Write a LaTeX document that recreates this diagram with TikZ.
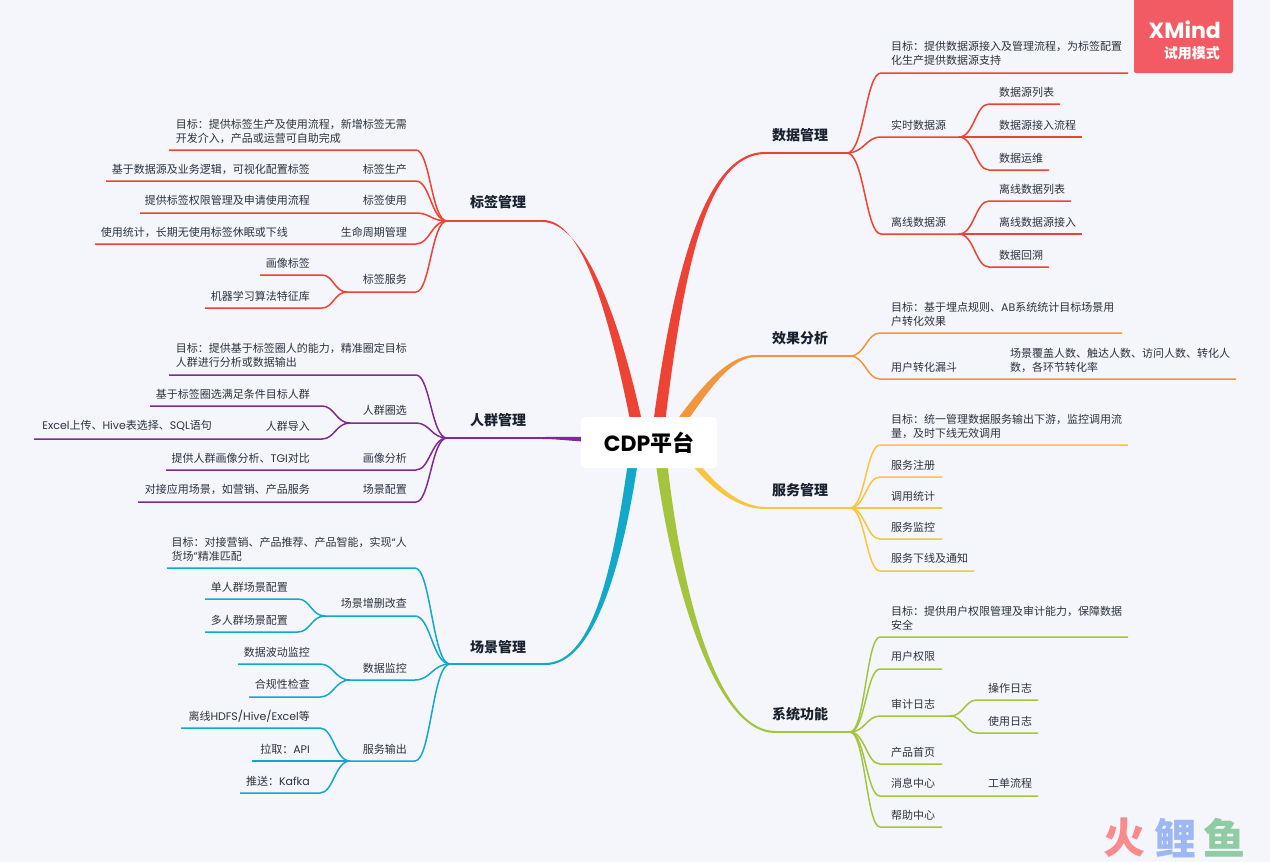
\documentclass[tikz,border=0pt]{standalone}
\usepackage{fontspec}
\setmainfont{Noto Sans CJK SC}
\newfontfamily\lat{Poppins}
\usetikzlibrary{calc}
\definecolor{bgc}{HTML}{F5F6FB}
\definecolor{ink}{HTML}{2C3240}
\definecolor{inkd}{HTML}{1A2230}
\definecolor{rd}{HTML}{EC4334}
\definecolor{og}{HTML}{F2953D}
\definecolor{yl}{HTML}{F8C53D}
\definecolor{gn}{HTML}{A3C53E}
\definecolor{bl}{HTML}{12A8CA}
\definecolor{pp}{HTML}{7D2B93}
\definecolor{xm}{HTML}{F25B63}
\definecolor{wma}{HTML}{FB8A8C}
\definecolor{wmb}{HTML}{9DB7F5}
\definecolor{wmc}{HTML}{8FCBA3}
\tikzset{
  twig/.style={to path={let \p1=(\tikztostart),\p2=(\tikztotarget) in
    .. controls ({\x1+0.5*(\x2-\x1)},{\y1}) and ({\x1+0.55*(\x2-\x1)},{\y2}) .. (\tikztotarget)}},
  wire/.style={line width=1.5pt},
  stem/.style={line width=1.9pt},
  leaf/.style={inner sep=0pt,text=ink,font=\fontsize{11}{14}\selectfont,align=left},
  lleaf/.style={leaf,anchor=east},
  rleaf/.style={leaf,anchor=west},
  topic/.style={inner sep=0pt,text=inkd,font=\fontsize{14}{16}\selectfont\bfseries},
  wmark/.style={inner sep=0pt,font=\fontsize{42}{44}\selectfont\bfseries}
}
\begin{document}
\begin{tikzpicture}[x=1pt,y=-1pt]
\useasboundingbox (0,0) rectangle (1270,862);
\fill [bgc] (0,0) rectangle (1270,862);
\coordinate (ra) at (657,440);
\coordinate (rb) at (640,440);
\coordinate (rc) at (668,440);
\coordinate (rd0) at (680,445);
\coordinate (re) at (659,440);
\coordinate (rf) at (636,440);
\coordinate (rg) at (600,440);
% main branches
\coordinate (d0) at (765,153);
\coordinate (d) at (847,153);
\fill [rd] ($(ra)+(-6,0)$) .. controls (675,250) and (710,152) .. ($(d0)+(0,-1)$) -- ($(d0)+(0,1)$) .. controls (710,155) and (685,250) .. ($(ra)+(6,0)$) -- cycle;
\draw [rd,stem] (d0) -- (d);
\coordinate (e0) at (755,356);
\coordinate (e) at (850,356);
\fill [og] ($(rc)+(-5,0)$) .. controls (687,405) and (722,355) .. ($(e0)+(0,-1)$) -- ($(e0)+(0,1)$) .. controls (724,358) and (696,412) .. ($(rc)+(5,0)$) -- cycle;
\draw [og,stem] (e0) -- (e);
\coordinate (s0) at (765,508);
\coordinate (s) at (850,508);
\fill [yl] ($(rd0)+(-3,0)$) .. controls (692,467) and (725,509) .. ($(s0)+(0,1)$) -- ($(s0)+(0,-1)$) .. controls (727,506) and (699,462) .. ($(rd0)+(3,0)$) -- cycle;
\draw [yl,stem] (s0) -- (s);
\coordinate (f0) at (775,732);
\coordinate (f) at (850,732);
\fill [gn] ($(re)+(-6,0)$) .. controls (667,570) and (712,733) .. ($(f0)+(0,1)$) -- ($(f0)+(0,-1)$) .. controls (712,730) and (677,570) .. ($(re)+(6,0)$) -- cycle;
\draw [gn,stem] (f0) -- (f);
\coordinate (t0) at (543,221);
\coordinate (t) at (447,221);
\fill [rd] ($(rb)+(-6,0)$) .. controls (607,300) and (580,220) .. ($(t0)+(0,-1)$) -- ($(t0)+(0,1)$) .. controls (580,223) and (617,300) .. ($(rb)+(6,0)$) -- cycle;
\draw [rd,stem] (t0) -- (t);
\coordinate (p0) at (543,438);
\coordinate (p) at (447,438);
\fill [pp] (rg |- 0,437) .. controls (570,436.5) and (560,437) .. ($(p0)+(0,-1)$) -- ($(p0)+(0,1)$) .. controls (560,439) and (570,441.5) .. (rg |- 0,442) -- cycle;
\draw [pp,stem] (p0) -- (p);
\coordinate (c0) at (545,664);
\coordinate (c) at (450,664);
\fill [bl] ($(rf)+(-5,0)$) .. controls (615,560) and (595,663) .. ($(c0)+(0,-1)$) -- ($(c0)+(0,1)$) .. controls (595,666) and (625,560) .. ($(rf)+(5,0)$) -- cycle;
\draw [bl,stem] (c0) -- (c);
% root
\node [fill=white,rounded corners=4pt,minimum width=136pt,minimum height=51pt,inner sep=0pt,font=\fontsize{22}{24}\selectfont\bfseries,text=black] (root) at (649,442.5) {{\lat CDP}平台};
% data
\node [topic] (dt) at (800,135) {数据管理};
\node [rleaf] (d1t) at (891,53) {目标：提供数据源接入及管理流程，为标签配置\\化生产提供数据源支持};
\coordinate (d1a) at (881,73); \coordinate (d1b) at (1128,73);
\draw [rd,wire] (d) to[twig] (d1a) -- (d1b);
\node [rleaf] (d2t) at (891,125) {实时数据源};
\coordinate (d2a) at (881,137); \coordinate (d2b) at (959,137);
\draw [rd,wire] (d) to[twig] (d2a) -- (d2b);
\node [rleaf] (d21t) at (999,92) {数据源列表};
\coordinate (d21a) at (989,104); \coordinate (d21b) at (1060,104);
\draw [rd,wire] (d2b) to[twig] (d21a) -- (d21b);
\node [rleaf] (d22t) at (999,125) {数据源接入流程};
\coordinate (d22b) at (1082,137);
\draw [rd,wire] (d2b) -- (d22b);
\node [rleaf] (d23t) at (999,158) {数据运维};
\coordinate (d23a) at (989,170); \coordinate (d23b) at (1049,170);
\draw [rd,wire] (d2b) to[twig] (d23a) -- (d23b);
\node [rleaf] (d3t) at (891,222) {离线数据源};
\coordinate (d3a) at (881,234); \coordinate (d3b) at (959,234);
\draw [rd,wire] (d) to[twig] (d3a) -- (d3b);
\node [rleaf] (d31t) at (999,189) {离线数据列表};
\coordinate (d31a) at (989,201); \coordinate (d31b) at (1071,201);
\draw [rd,wire] (d3b) to[twig] (d31a) -- (d31b);
\node [rleaf] (d32t) at (999,222) {离线数据源接入};
\coordinate (d32b) at (1082,234);
\draw [rd,wire] (d3b) -- (d32b);
\node [rleaf] (d33t) at (999,255) {数据回溯};
\coordinate (d33a) at (989,267); \coordinate (d33b) at (1049,267);
\draw [rd,wire] (d3b) to[twig] (d33a) -- (d33b);
% effect
\node [topic] (et) at (800,338) {效果分析};
\node [rleaf] (e1t) at (891,314) {目标：基于埋点规则、{\lat AB}系统统计目标场景用\\户转化效果};
\coordinate (e1a) at (880,333); \coordinate (e1b) at (1122,333);
\draw [og,wire] (e) to[twig] (e1a) -- (e1b);
\node [rleaf] (e2t) at (891,367) {用户转化漏斗};
\coordinate (e2a) at (880,379); \coordinate (e2b) at (1236,379);
\draw [og,wire] (e) to[twig] (e2a) -- (e2b);
\node [rleaf] (e21t) at (1010,360) {场景覆盖人数、触达人数、访问人数、转化人\\数，各环节转化率};
% service
\node [topic] (st) at (800,490) {服务管理};
\node [rleaf] (s1t) at (891,426) {目标：统一管理数据服务输出下游，监控调用流\\量，及时下线无效调用};
\coordinate (s1a) at (880,445); \coordinate (s1b) at (1128,445);
\draw [yl,wire] (s) to[twig] (s1a) -- (s1b);
\node [rleaf] (s2t) at (891,465) {服务注册};
\coordinate (s2a) at (880,477); \coordinate (s2b) at (942,477);
\draw [yl,wire] (s) to[twig] (s2a) -- (s2b);
\node [rleaf] (s3t) at (891,496) {调用统计};
\coordinate (s3b) at (942,508);
\draw [yl,wire] (s) -- (s3b);
\node [rleaf] (s4t) at (891,527) {服务监控};
\coordinate (s4a) at (880,539); \coordinate (s4b) at (942,539);
\draw [yl,wire] (s) to[twig] (s4a) -- (s4b);
\node [rleaf] (s5t) at (891,558) {服务下线及通知};
\coordinate (s5a) at (880,571); \coordinate (s5b) at (974,571);
\draw [yl,wire] (s) to[twig] (s5a) -- (s5b);
% system
\node [topic] (ft) at (800,714) {系统功能};
\node [rleaf] (f1t) at (891,618) {目标：提供用户权限管理及审计能力，保障数据\\安全};
\coordinate (f1a) at (880,637); \coordinate (f1b) at (1128,637);
\draw [gn,wire] (f) to[twig] (f1a) -- (f1b);
\node [rleaf] (f2t) at (891,656) {用户权限};
\coordinate (f2a) at (880,669); \coordinate (f2b) at (942,669);
\draw [gn,wire] (f) to[twig] (f2a) -- (f2b);
\node [rleaf] (f3t) at (891,704) {审计日志};
\coordinate (f3a) at (880,716); \coordinate (f3b) at (950,716);
\draw [gn,wire] (f) to[twig] (f3a) -- (f3b);
\node [rleaf] (f31t) at (988,688) {操作日志};
\coordinate (f31a) at (977,700); \coordinate (f31b) at (1038,700);
\draw [gn,wire] (f3b) to[twig] (f31a) -- (f31b);
\node [rleaf] (f32t) at (988,721) {使用日志};
\coordinate (f32a) at (977,733); \coordinate (f32b) at (1038,733);
\draw [gn,wire] (f3b) to[twig] (f32a) -- (f32b);
\node [rleaf] (f4t) at (891,752) {产品首页};
\coordinate (f4a) at (880,764); \coordinate (f4b) at (942,764);
\draw [gn,wire] (f) to[twig] (f4a) -- (f4b);
\node [rleaf] (f5t) at (891,783) {消息中心};
\node [rleaf] (f51t) at (988,783) {工单流程};
\coordinate (f5a) at (880,796); \coordinate (f5b) at (1038,796);
\draw [gn,wire] (f) to[twig] (f5a) -- (f5b);
\node [rleaf] (f6t) at (891,815) {帮助中心};
\coordinate (f6a) at (880,827); \coordinate (f6b) at (942,827);
\draw [gn,wire] (f) to[twig] (f6a) -- (f6b);
% tags
\node [topic] (tt) at (498,202) {标签管理};
\node [lleaf] (t1t) at (407,131) {目标：提供标签生产及使用流程，新增标签无需\\开发介入，产品或运营可自助完成};
\coordinate (t1a) at (416,150); \coordinate (t1b) at (169,150);
\draw [rd,wire] (t) to[twig] (t1a) -- (t1b);
\node [lleaf] (t2t) at (407,169) {标签生产};
\node [lleaf] (t21t) at (310,169) {基于数据源及业务逻辑，可视化配置标签};
\coordinate (t2a) at (416,181); \coordinate (t2b) at (106,181);
\draw [rd,wire] (t) to[twig] (t2a) -- (t2b);
\node [lleaf] (t3t) at (407,200) {标签使用};
\node [lleaf] (t31t) at (310,200) {提供标签权限管理及申请使用流程};
\coordinate (t3a) at (416,213); \coordinate (t3b) at (140,213);
\draw [rd,wire] (t) to[twig] (t3a) -- (t3b);
\node [lleaf] (t4t) at (407,232) {生命周期管理};
\node [lleaf] (t41t) at (288,232) {使用统计，长期无使用标签休眠或下线};
\coordinate (t4a) at (416,244); \coordinate (t4b) at (95,244);
\draw [rd,wire] (t) to[twig] (t4a) -- (t4b);
\node [lleaf] (t5t) at (407,279) {标签服务};
\coordinate (t5a) at (416,292); \coordinate (t5b) at (347,292);
\draw [rd,wire] (t) to[twig] (t5a) -- (t5b);
\node [lleaf] (t51t) at (310,263) {画像标签};
\coordinate (t51a) at (322,275); \coordinate (t51b) at (260,275);
\draw [rd,wire] (t5b) to[twig] (t51a) -- (t51b);
\node [lleaf] (t52t) at (310,296) {机器学习算法特征库};
\coordinate (t52a) at (322,308); \coordinate (t52b) at (205,308);
\draw [rd,wire] (t5b) to[twig] (t52a) -- (t52b);
% people
\node [topic] (pt) at (498,420) {人群管理};
\node [lleaf] (p1t) at (407,355) {目标：提供基于标签圈人的能力，精准圈定目标\\人群进行分析或数据输出};
\coordinate (p1a) at (416,375); \coordinate (p1b) at (169,375);
\draw [pp,wire] (p) to[twig] (p1a) -- (p1b);
\node [lleaf] (p2t) at (407,410) {人群圈选};
\coordinate (p2a) at (416,423); \coordinate (p2b) at (350,423);
\draw [pp,wire] (p) to[twig] (p2a) -- (p2b);
\node [lleaf] (p21t) at (310,394) {基于标签圈选满足条件目标人群};
\coordinate (p21a) at (322,406); \coordinate (p21b) at (150,406);
\draw [pp,wire] (p2b) to[twig] (p21a) -- (p21b);
\node [lleaf] (p22t) at (310,426) {人群导入};
\node [lleaf] (p221t) at (212,426) {{\lat Excel}上传、{\lat Hive}表选择、{\lat SQL}语句};
\coordinate (p22a) at (322,439); \coordinate (p22b) at (34,439);
\draw [pp,wire] (p2b) to[twig] (p22a) -- (p22b);
\node [lleaf] (p3t) at (407,458) {画像分析};
\node [lleaf] (p31t) at (310,458) {提供人群画像分析、{\lat TGI}对比};
\coordinate (p3a) at (416,470); \coordinate (p3b) at (166,470);
\draw [pp,wire] (p) to[twig] (p3a) -- (p3b);
\node [lleaf] (p4t) at (407,489) {场景配置};
\node [lleaf] (p41t) at (310,489) {对接应用场景，如营销、产品服务};
\coordinate (p4a) at (416,502); \coordinate (p4b) at (138,502);
\draw [pp,wire] (p) to[twig] (p4a) -- (p4b);
% scene
\node [topic] (ct) at (498,647) {场景管理};
\node [lleaf] (c1t) at (407,549) {目标：对接营销、产品推荐、产品智能，实现{\lat “}人\\货场{\lat ”}精准匹配\hspace*{126pt}};
\coordinate (c1a) at (415,568); \coordinate (c1b) at (167,568);
\draw [bl,wire] (c) to[twig] (c1a) -- (c1b);
\node [lleaf] (c2t) at (407,603) {场景增删改查};
\coordinate (c2a) at (415,616); \coordinate (c2b) at (325,616);
\draw [bl,wire] (c) to[twig] (c2a) -- (c2b);
\node [lleaf] (c21t) at (288,587) {单人群场景配置};
\coordinate (c21a) at (298,599); \coordinate (c21b) at (205,599);
\draw [bl,wire] (c2b) to[twig] (c21a) -- (c21b);
\node [lleaf] (c22t) at (288,620) {多人群场景配置};
\coordinate (c22a) at (298,632); \coordinate (c22b) at (205,632);
\draw [bl,wire] (c2b) to[twig] (c22a) -- (c22b);
\node [lleaf] (c3t) at (407,668) {数据监控};
\coordinate (c3a) at (415,680); \coordinate (c3b) at (350,680);
\draw [bl,wire] (c) to[twig] (c3a) -- (c3b);
\node [lleaf] (c31t) at (310,652) {数据波动监控};
\coordinate (c31a) at (320,664); \coordinate (c31b) at (238,664);
\draw [bl,wire] (c3b) to[twig] (c31a) -- (c31b);
\node [lleaf] (c32t) at (310,684) {合规性检查};
\coordinate (c32a) at (320,697); \coordinate (c32b) at (249,697);
\draw [bl,wire] (c3b) to[twig] (c32a) -- (c32b);
\node [lleaf] (c4t) at (407,749) {服务输出};
\coordinate (c4a) at (415,761); \coordinate (c4b) at (350,761);
\draw [bl,wire] (c) to[twig] (c4a) -- (c4b);
\node [lleaf] (c41t) at (310,716) {离线{\lat HDFS/Hive/Excel}等};
\coordinate (c41a) at (320,728); \coordinate (c41b) at (181,728);
\draw [bl,wire] (c4b) to[twig] (c41a) -- (c41b);
\node [lleaf] (c42t) at (310,749) {拉取：{\lat API}};
\coordinate (c42b) at (252,761);
\draw [bl,wire] (c4b) -- (c42b);
\node [lleaf] (c43t) at (310,781) {推送：{\lat Kafka}};
\coordinate (c43a) at (320,793); \coordinate (c43b) at (240,793);
\draw [bl,wire] (c4b) to[twig] (c43a) -- (c43b);
% stamps
\fill [xm,rounded corners=2pt] (1134,-5) rectangle (1233,73);
\node [inner sep=0pt,anchor=east,text=white,font=\fontsize{22}{24}\selectfont\lat\bfseries] (xmark) at (1221,30) {XMind};
\node [inner sep=0pt,anchor=east,text=white,font=\fontsize{14}{16}\selectfont\bfseries] (xtrial) at (1220,53) {试用模式};
\node [wmark,text=wma] (w1) at (1124,838) {火};
\node [wmark,text=wmb] (w2) at (1175,838) {鲤};
\node [wmark,text=wmc] (w3) at (1224,838) {鱼};
\end{tikzpicture}
\end{document}
